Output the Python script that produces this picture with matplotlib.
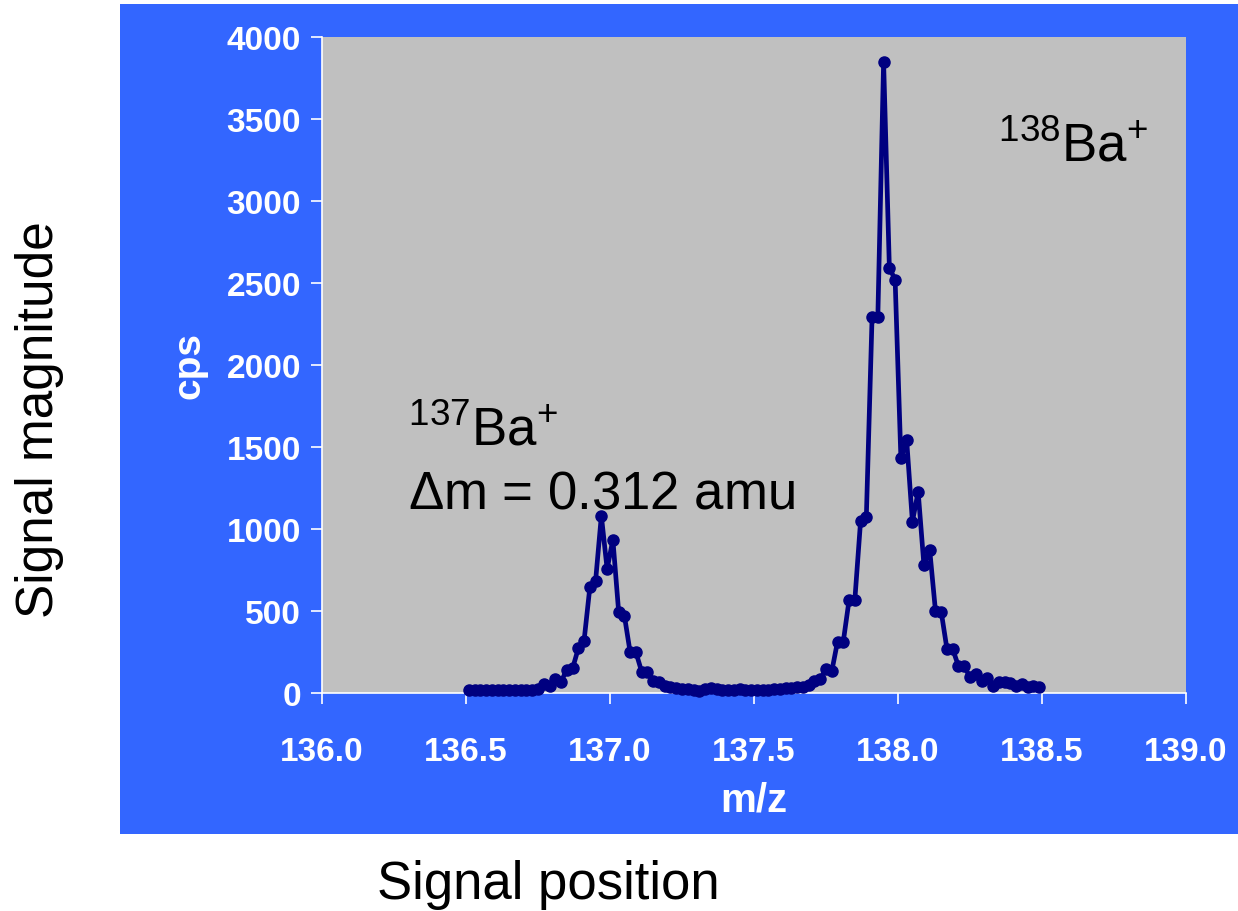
import matplotlib
matplotlib.use("Agg")
import matplotlib.pyplot as plt
from matplotlib.patches import Rectangle

plt.rcParams['font.family'] = ['Liberation Sans', 'DejaVu Sans']
plt.rcParams['mathtext.default'] = 'regular'

# m/z positions (amu)
mz = [136.51, 136.53, 136.55, 136.57, 136.59, 136.61, 136.63, 136.65, 136.67, 136.69,
      136.71, 136.73, 136.75, 136.77, 136.79, 136.81, 136.83, 136.85, 136.87, 136.89,
      136.91, 136.93, 136.95, 136.97, 136.99, 137.01, 137.03, 137.05, 137.07, 137.09,
      137.11, 137.13, 137.15, 137.17, 137.19, 137.21, 137.23, 137.25, 137.27, 137.29,
      137.31, 137.33, 137.35, 137.37, 137.39, 137.41, 137.43, 137.45, 137.47, 137.49,
      137.51, 137.53, 137.55, 137.57, 137.59, 137.61, 137.63, 137.65, 137.67, 137.69,
      137.71, 137.73, 137.75, 137.77, 137.79, 137.81, 137.83, 137.85, 137.87, 137.89,
      137.91, 137.93, 137.95, 137.97, 137.99, 138.01, 138.03, 138.05, 138.07, 138.09,
      138.11, 138.13, 138.15, 138.17, 138.19, 138.21, 138.23, 138.25, 138.27, 138.29,
      138.31, 138.33, 138.35, 138.37, 138.39, 138.41, 138.43, 138.45, 138.47, 138.49]

# signal (cps)
cps = [18, 18, 18, 18, 18, 18, 18, 18, 18, 18,
       18, 20, 25, 55, 45, 85, 69, 142, 150, 272,
       319, 644, 685, 1081, 756, 935, 496, 471, 248, 248,
       130, 130, 75, 65, 45, 35, 30, 25, 22, 18,
       15, 25, 28, 22, 20, 18, 20, 22, 20, 18,
       18, 20, 20, 22, 25, 30, 32, 38, 35, 50,
       75, 85, 146, 132, 313, 313, 565, 565, 1047, 1071,
       2295, 2295, 3848, 2593, 2520, 1431, 1545, 1045, 1227, 780,
       874, 502, 496, 268, 268, 163, 163, 96, 116, 75,
       90, 45, 69, 65, 61, 45, 55, 35, 45, 35]

x_ticks = [136.0, 136.5, 137.0, 137.5, 138.0, 138.5, 139.0]
y_ticks = [0, 500, 1000, 1500, 2000, 2500, 3000, 3500, 4000]

W, H = 1238, 912
fig = plt.figure(figsize=(W / 100, H / 100), dpi=100)
fig.patch.set_facecolor('white')

blue = '#3366FF'
fig.patches.append(Rectangle((120 / W, 1 - 835 / H), (1238 - 120) / W, (835 - 5) / H,
                             transform=fig.transFigure, facecolor=blue, edgecolor='none', zorder=-10))

ax = fig.add_axes([322 / W, 1 - 694 / H, (1186 - 322) / W, (694 - 38) / H])
ax.set_zorder(5)
ax.set_facecolor('#C0C0C0')
ax.plot(mz, cps, color='#000080', linewidth=3.4, marker='o', markersize=8, clip_on=False, zorder=3)

ax.set_xlim(136.0, 139.0)
ax.set_ylim(0, 4000)
ax.set_xticks(x_ticks)
ax.set_xticklabels([f'{v:.1f}' for v in x_ticks])
ax.set_yticks(y_ticks)
ax.set_yticklabels([str(v) for v in y_ticks])

for s in ['top', 'right']:
    ax.spines[s].set_visible(False)
for s in ['left', 'bottom']:
    ax.spines[s].set_color('white')
    ax.spines[s].set_linewidth(1.2)
ax.tick_params(axis='both', direction='out', length=8, width=1.2, color='white',
               labelcolor='white', labelsize=24)
ax.tick_params(axis='x', pad=23)
ax.tick_params(axis='y', pad=7)
for lab in ax.get_xticklabels() + ax.get_yticklabels():
    lab.set_fontweight('bold')

ax.set_xlabel('m/z', color='white', fontsize=29, fontweight='bold', labelpad=10)
ax.set_ylabel('cps', color='white', fontsize=28, fontweight='bold', labelpad=14)

ax.text(136.30, 1518, r'$^{137}$Ba$^{+}$', fontsize=38, color='black', ha='left', va='baseline')
ax.text(136.30, 1134, r'$\Delta$m = 0.312 amu', fontsize=38, color='black', ha='left', va='baseline')
ax.text(138.347, 3246, r'$^{138}$Ba$^{+}$', fontsize=38, color='black', ha='left', va='baseline')

fig.text(40 / W, 1 - 420 / H, 'Signal magnitude', rotation=90, fontsize=37,
         color='black', ha='center', va='center')
fig.text(548 / W, 1 - 885 / H, 'Signal position', fontsize=38,
         color='black', ha='center', va='center')

fig.savefig('out.png', dpi=100)
